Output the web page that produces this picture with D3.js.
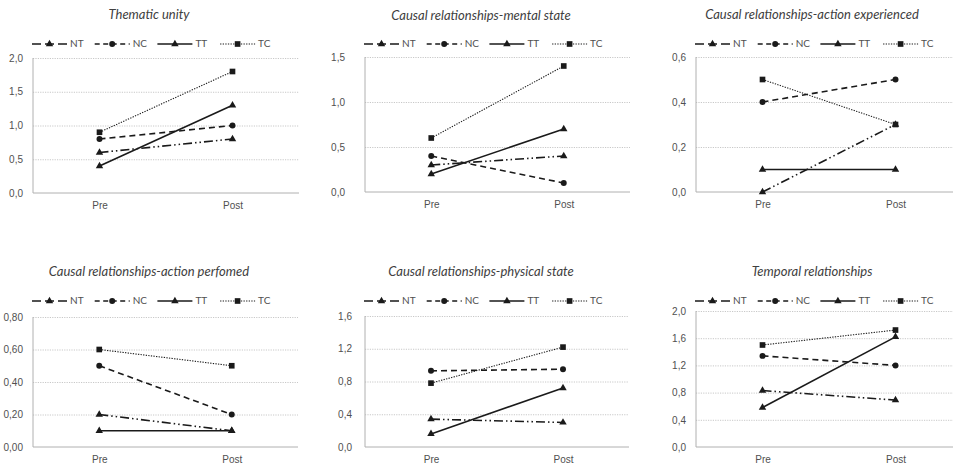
<!DOCTYPE html>
<html lang="en">
<head>
<meta charset="utf-8" />
<title>Pre / Post scores</title>
<style>
html, body {
	margin: 0;
	padding: 0;
	background: #fff;
}
svg {
	display: block;
	font-family: Lato, "Open Sans", sans-serif;
}
.grid line {
	stroke: #c8c8c8;
	stroke-dasharray: 1.2,1.2;
}
.tick text {
	fill: #505050;
	font-size: 10px;
}
</style>
</head>
<body>
<svg width="953" height="468"></svg>

<script src="https://cdn.jsdelivr.net/npm/d3@7"></script>
<script>
// data
var categories = ["Pre", "Post"];
var groups = ["NT", "NC", "TT", "TC"];
var titles = [
	"Thematic unity",
	"Causal relationships-mental state",
	"Causal relationships-action experienced",
	"Causal relationships-action perfomed",
	"Causal relationships-physical state",
	"Temporal relationships"
];

// one row per group (NT, NC, TT, TC): [Pre, Post]
var thematicUnity   = [[0.6, 0.8], [0.8, 1.0], [0.4, 1.3], [0.9, 1.8]];
var mentalState     = [[0.3, 0.4], [0.4, 0.1], [0.2, 0.7], [0.6, 1.4]];
var actionExperienced = [[0.0, 0.3], [0.4, 0.5], [0.1, 0.1], [0.5, 0.3]];
var actionPerformed = [[0.2, 0.1], [0.5, 0.2], [0.1, 0.1], [0.6, 0.5]];
var physicalState   = [[0.34, 0.30], [0.93, 0.95], [0.16, 0.72], [0.78, 1.22]];
var temporal        = [[0.83, 0.69], [1.34, 1.20], [0.58, 1.62], [1.50, 1.72]];

var yTicks = [
	[0, 0.5, 1.0, 1.5, 2.0],
	[0, 0.5, 1.0, 1.5],
	[0, 0.2, 0.4, 0.6],
	[0, 0.2, 0.4, 0.6, 0.8],
	[0, 0.4, 0.8, 1.2, 1.6],
	[0, 0.4, 0.8, 1.2, 1.6, 2.0]
];
var tickDecimals = [1, 1, 1, 2, 1, 1];

var panelData = [thematicUnity, mentalState, actionExperienced, actionPerformed, physicalState, temporal];

// where each small chart sits
var layout = [
	{left: 33,  right: 299, top: 58,  bottom: 193, labelGap: 10, titleY: 16,  legendY: 44},
	{left: 365, right: 630, top: 57,  bottom: 192, labelGap: 20, titleY: 17,  legendY: 44},
	{left: 696, right: 962, top: 57,  bottom: 192, labelGap: 10, titleY: 16,  legendY: 44},
	{left: 33,  right: 298, top: 317, bottom: 447, labelGap: 10, titleY: 273, legendY: 301},
	{left: 365, right: 629, top: 316, bottom: 447, labelGap: 13, titleY: 273, legendY: 301},
	{left: 696, right: 962, top: 311, bottom: 447, labelGap: 10, titleY: 273, legendY: 301}
];

// line style and marker per group
var styles = {
	NT: {dash: "9,3,1.5,3,1.5,3", width: 1.6, marker: d3.symbolTriangle},
	NC: {dash: "6,4",             width: 1.6, marker: d3.symbolCircle},
	TT: {dash: null,              width: 1.6, marker: d3.symbolTriangle},
	TC: {dash: "1.3,1.3",         width: 1.1, marker: d3.symbolSquare}
};
var markerSize = {NT: 24, NC: 28, TT: 24, TC: 32};

var svg = d3.select("svg");

layout.forEach(function(p, i) {
	var g = svg.append("g");
	var rows = panelData[i];
	var ticks = yTicks[i];

	var x = d3.scalePoint().domain(categories).range([p.left, p.right]).padding(0.5);
	var y = d3.scaleLinear().domain([0, d3.max(ticks)]).range([p.bottom, p.top]);

	// gridlines + tick labels
	var fmt = function(v) { return v.toFixed(tickDecimals[i]).replace(".", ","); };
	var yAxis = g.append("g")
		.attr("class", "grid")
		.attr("transform", "translate(" + p.left + ",0)")
		.call(d3.axisLeft(y).tickValues(ticks).tickFormat(fmt)
			.tickSize(-(p.right - p.left)).tickPadding(p.labelGap));
	yAxis.select(".domain").remove();
	yAxis.selectAll(".tick").filter(function(d) { return d === 0; }).select("line").remove();

	// axis lines
	g.append("line")
		.attr("x1", p.left).attr("x2", p.left)
		.attr("y1", p.top).attr("y2", p.bottom)
		.attr("stroke", "#b0b0b0").attr("stroke-width", 1);
	g.append("line")
		.attr("x1", p.left).attr("x2", p.right)
		.attr("y1", p.bottom).attr("y2", p.bottom)
		.attr("stroke", "#b0b0b0").attr("stroke-width", 1);

	var xAxis = g.append("g")
		.attr("transform", "translate(0," + p.bottom + ")")
		.call(d3.axisBottom(x).tickSize(0).tickPadding(9));
	xAxis.select(".domain").remove();

	// title
	g.append("text")
		.attr("x", p.left + 116)
		.attr("y", p.titleY)
		.attr("text-anchor", "middle")
		.attr("dominant-baseline", "middle")
		.attr("font-style", "italic")
		.attr("font-size", "13px")
		.attr("fill", "#404040")
		.text(titles[i]);

	// legend
	var leg = g.append("g").attr("transform", "translate(" + (p.left - 1) + "," + p.legendY + ")");
	groups.forEach(function(name, k) {
		var s = styles[name];
		var item = leg.append("g").attr("transform", "translate(" + (k * 62.7) + ",0)");
		item.append("line")
			.attr("x1", 0).attr("x2", 35)
			.attr("stroke", "#1a1a1a")
			.attr("stroke-width", s.width)
			.attr("stroke-dasharray", name === "NT" ? "9,4" : (name === "NC" ? "5,3.5" : s.dash));
		item.append("path")
			.attr("transform", "translate(17.5,0)")
			.attr("d", d3.symbol().type(s.marker).size(markerSize[name]))
			.attr("fill", "#1a1a1a");
		item.append("text")
			.attr("x", 38)
			.attr("dominant-baseline", "middle")
			.attr("font-size", "10px")
			.attr("fill", "#505050")
			.text(name);
	});

	// series
	var line = d3.line()
		.x(function(d, j) { return x(categories[j]); })
		.y(function(d) { return y(d); });

	rows.forEach(function(vals, k) {
		var name = groups[k];
		var s = styles[name];
		g.append("path")
			.datum(vals)
			.attr("d", line)
			.attr("fill", "none")
			.attr("stroke", "#1a1a1a")
			.attr("stroke-width", s.width)
			.attr("stroke-dasharray", s.dash);
	});
	rows.forEach(function(vals, k) {
		var name = groups[k];
		g.selectAll(null)
			.data(vals)
			.enter()
			.append("path")
			.attr("transform", function(d, j) {
				return "translate(" + x(categories[j]) + "," + y(d) + ")";
			})
			.attr("d", d3.symbol().type(styles[name].marker).size(markerSize[name]))
			.attr("fill", "#1a1a1a");
	});
});
</script>
</body>
</html>
